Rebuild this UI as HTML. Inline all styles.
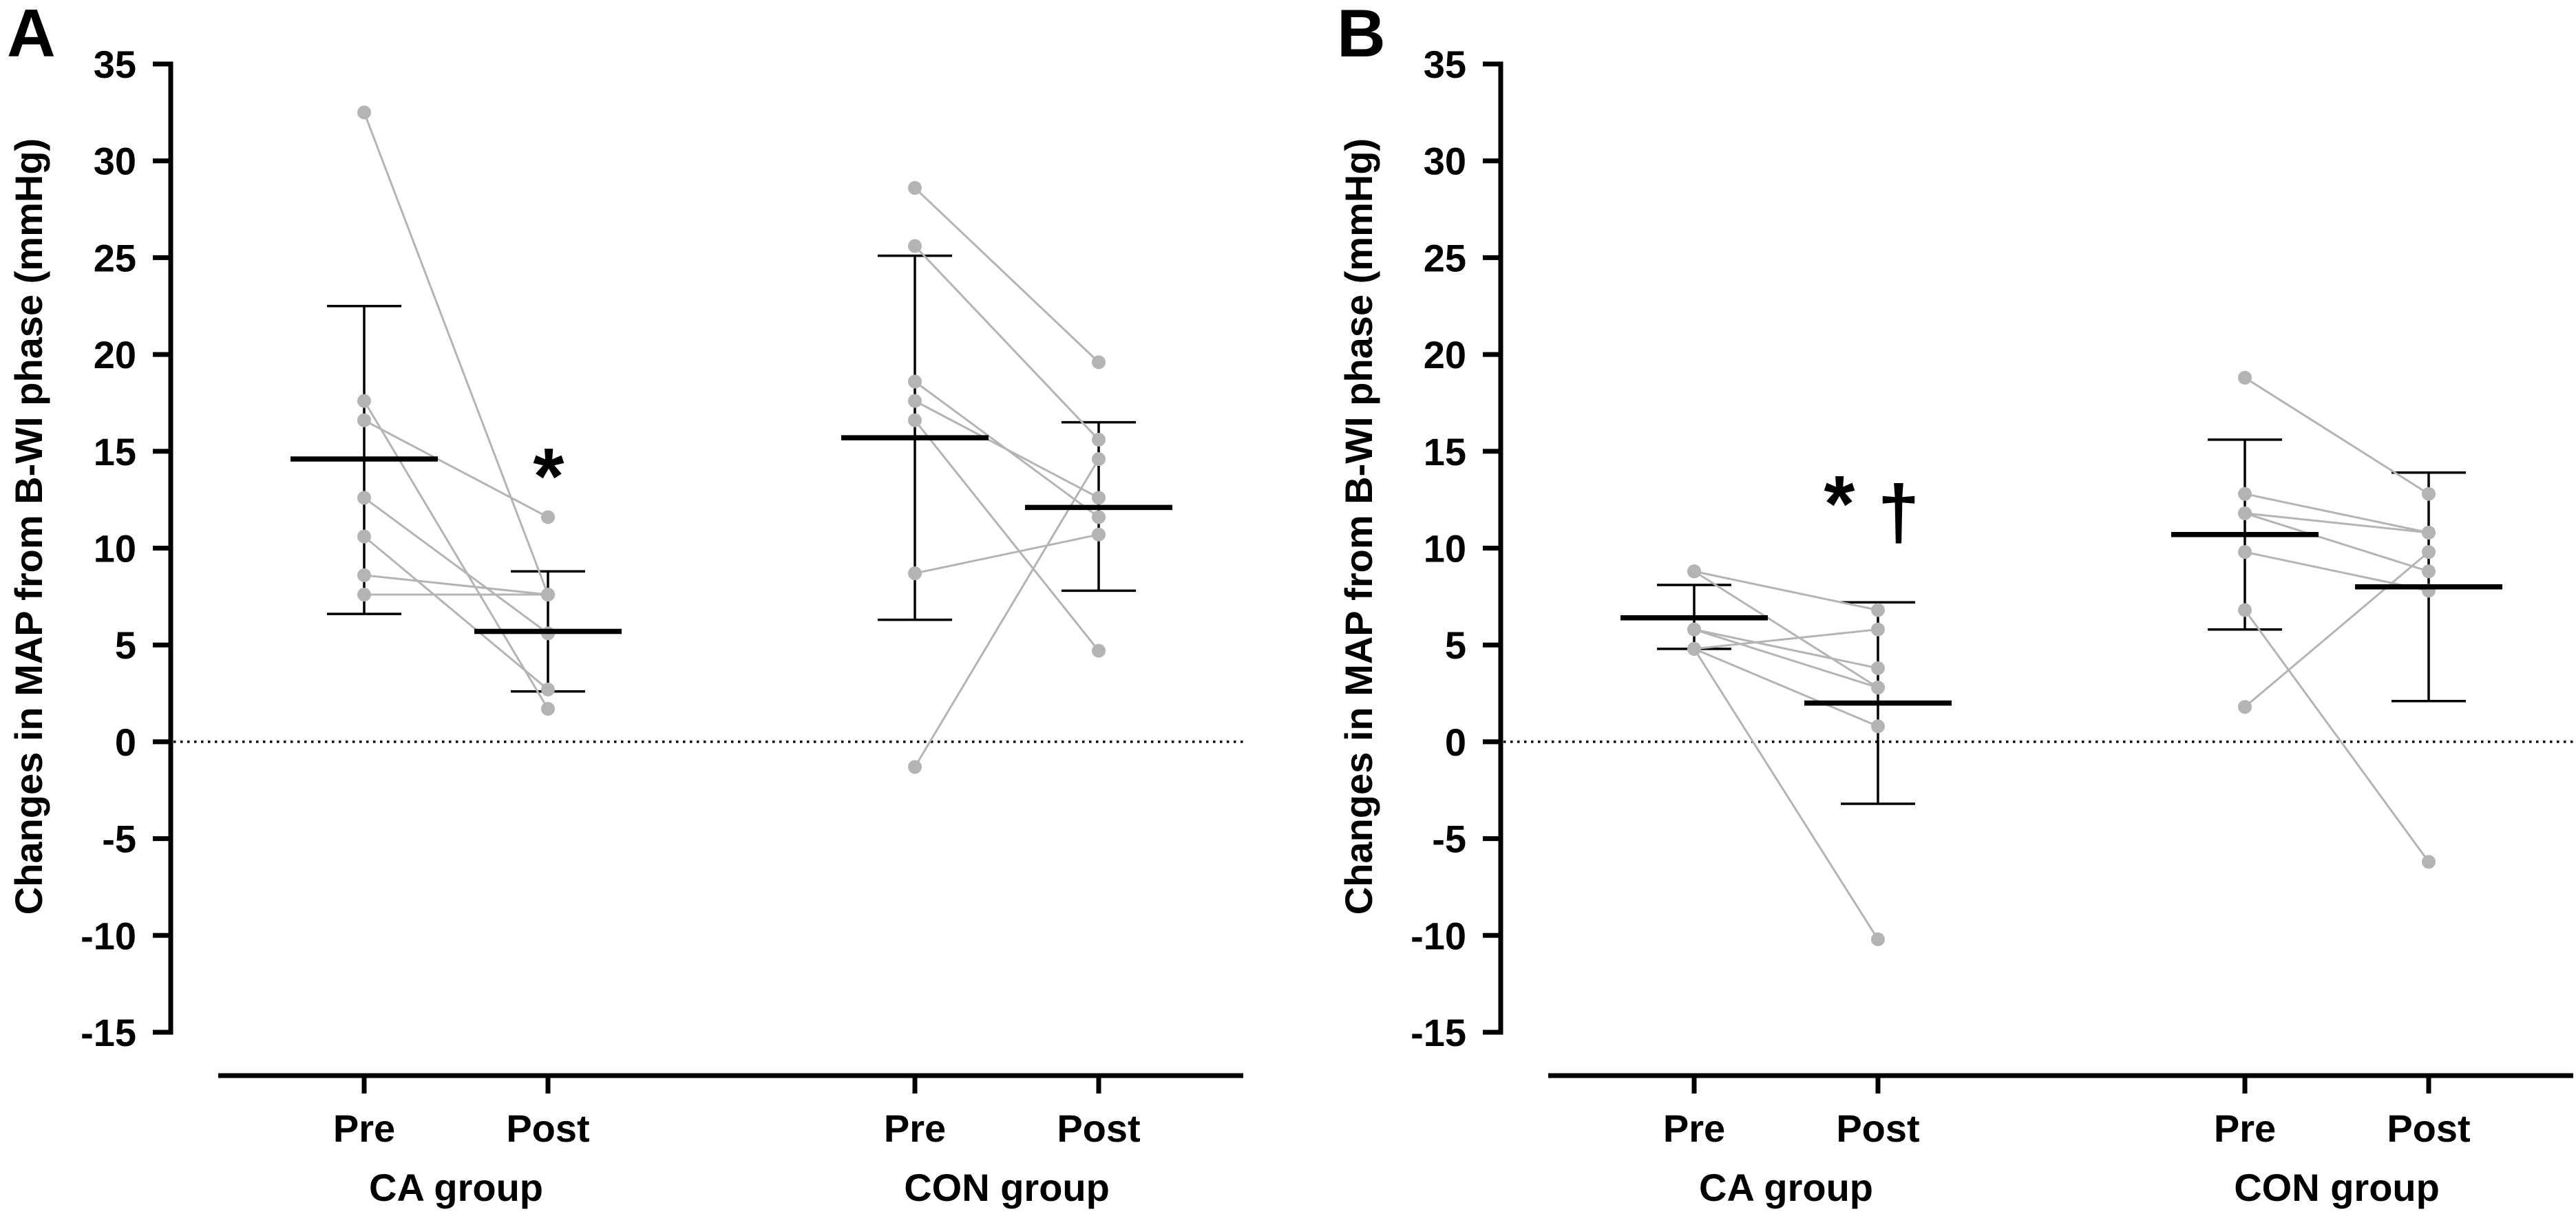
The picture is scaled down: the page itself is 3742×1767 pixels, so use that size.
<!DOCTYPE html>
<html><head><meta charset="utf-8">
<style>
html,body{margin:0;padding:0;background:#fff;}
svg{display:block;}
text{font-family:"Liberation Sans",Arial,sans-serif;font-weight:bold;fill:#000;}
</style></head>
<body>
<svg id="chart" width="3742" height="1767" viewBox="0 0 3742 1767" xmlns="http://www.w3.org/2000/svg"></svg>
<script>
// ---- data ----
const yTicks = [35, 30, 25, 20, 15, 10, 5, 0, -5, -10, -15];
const xCategories = ["Pre", "Post", "Pre", "Post"];
const groupLabels = ["CA group", "CON group"];
// Panel A
const aCaPre  = [32.5, 17.6, 16.6, 12.6, 10.6, 8.6, 7.6];
const aCaPost = [7.6, 1.7, 11.6, 5.6, 2.7, 7.6, 7.6];
const aConPre  = [28.6, 25.6, 18.6, 17.6, 16.6, 8.7, -1.3];
const aConPost = [19.6, 15.6, 11.6, 12.6, 4.7, 10.7, 14.6];
const aMeans = [14.6, 5.7, 15.7, 12.1];
const aErrHi = [22.5, 8.8, 25.1, 16.5];
const aErrLo = [6.6, 2.6, 6.3, 7.8];
// Panel B
const bCaPre  = [8.8, 8.8, 5.8, 5.8, 4.8, 4.8, 4.8];
const bCaPost = [6.8, 2.8, 3.8, 2.8, 5.8, 0.8, -10.2];
const bConPre  = [18.8, 12.8, 11.8, 11.8, 9.8, 6.8, 1.8];
const bConPost = [12.8, 10.8, 10.8, 8.8, 7.8, -6.2, 9.8];
const bMeans = [6.4, 2.0, 10.7, 8.0];
const bErrHi = [8.1, 7.2, 15.6, 13.9];
const bErrLo = [4.8, -3.2, 5.8, 2.1];

const NS = "http://www.w3.org/2000/svg";
const svg = document.getElementById("chart");
function mk(tag, attrs, parent) {
  const e = document.createElementNS(NS, tag);
  for (const k in attrs) e.setAttribute(k, attrs[k]);
  (parent || svg).appendChild(e);
  return e;
}
function yScale(v) { return 93 + (35 - v) * 28.14; }

function drawPanel(off, letter, caPre, caPost, conPre, conPost, means, hi, lo, sigs) {
  const g = mk("g", {});
  
  
  const xPos = [529 + off, 796 + off, 1329 + off, 1596 + off];
  const xS = i => xPos[i];

  const L = mk("text", {x: 10 + off, y: 82, "font-size": 98}, g);
  L.textContent = letter;
  
  

  const ax = mk("line", {x1: 248 + off, y1: yScale(35) - 3.5, x2: 248 + off, y2: yScale(-15) + 3.5, stroke: "#000", "stroke-width": 7}, g);
  
  
  yTicks.forEach(t => {
    const tk = mk("line", {x1: 222 + off, y1: yScale(t), x2: 248 + off, y2: yScale(t), stroke: "#000", "stroke-width": 7}, g);
    
    
    const tl = mk("text", {x: 198 + off, y: yScale(t) + 20, "font-size": 56, "text-anchor": "end"}, g);
    tl.textContent = String(t);
    
    
  });
  const yt = mk("text", {x: 0, y: 0, "font-size": 56, "text-anchor": "middle", transform: `translate(${61 + off},765) rotate(-90)`}, g);
  yt.textContent = "Changes in MAP from B-WI phase (mmHg)";
  
  

  const xa = mk("line", {x1: 317 + off, y1: 1563, x2: 1806 + off, y2: 1563, stroke: "#000", "stroke-width": 7}, g);
  
  
  xCategories.forEach((c, i) => {
    const tk = mk("line", {x1: xS(i), y1: 1563, x2: xS(i), y2: 1589, stroke: "#000", "stroke-width": 7}, g);
    
    
    const tl = mk("text", {x: xS(i), y: 1659, "font-size": 56, "text-anchor": "middle"}, g);
    tl.textContent = c;
    
    
  });
  groupLabels.forEach((gl, j) => {
    const t = mk("text", {x: (xS(2 * j) + xS(2 * j + 1)) / 2, y: 1745, "font-size": 56, "text-anchor": "middle"}, g);
    t.textContent = gl;
    
    
  });

  const z = mk("line", {x1: 252 + off, y1: yScale(0), x2: 1806 + off, y2: yScale(0), stroke: "#000", "stroke-width": 3.5, "stroke-dasharray": "3.5 6.5"}, g);
  
  

  means.forEach((m, i) => {
    const x = xS(i);
    const v = mk("line", {x1: x, y1: yScale(hi[i]), x2: x, y2: yScale(lo[i]), stroke: "#000", "stroke-width": 3.5}, g);
    
    
    [hi[i], lo[i]].forEach(e => {
      const c = mk("line", {x1: x - 54, y1: yScale(e), x2: x + 54, y2: yScale(e), stroke: "#000", "stroke-width": 3.5}, g);
      
      
    });
  });

  [[caPre, caPost, 0], [conPre, conPost, 2]].forEach(([pre, post, k]) => {
    pre.forEach((p, i) => {
      const ln = mk("line", {x1: xS(k), y1: yScale(p), x2: xS(k + 1), y2: yScale(post[i]), stroke: "#b4b4b4", "stroke-width": 3}, g);
      
      
    });
    pre.forEach((p, i) => {
      [[k, p], [k + 1, post[i]]].forEach(([ci, v]) => {
        const c = mk("circle", {cx: xS(ci), cy: yScale(v), r: 10, fill: "#b4b4b4"}, g);
        
        
      });
    });
  });

  means.forEach((m, i) => {
    const x = xS(i);
    const b = mk("line", {x1: x - 107, y1: yScale(m), x2: x + 107, y2: yScale(m), stroke: "#000", "stroke-width": 7.5}, g);
    
    
  });

  sigs.forEach(s => {
    const t = mk("text", {x: s.x + off, y: s.y, "font-size": s.fs, "text-anchor": "middle"}, g);
    t.textContent = s.t;
    
    
  });
}

drawPanel(0, "A", aCaPre, aCaPost, aConPre, aConPost, aMeans, aErrHi, aErrLo,
  [{t: "*", x: 797, y: 732, fs: 116, name: "significance-asterisk"}]);
drawPanel(1932, "B", bCaPre, bCaPost, bConPre, bConPost, bMeans, bErrHi, bErrLo,
  [{t: "*", x: 740, y: 772, fs: 116, name: "significance-asterisk"},
   {t: "†", x: 826, y: 782, fs: 110, name: "significance-dagger"}]);
</script>
</body></html>
